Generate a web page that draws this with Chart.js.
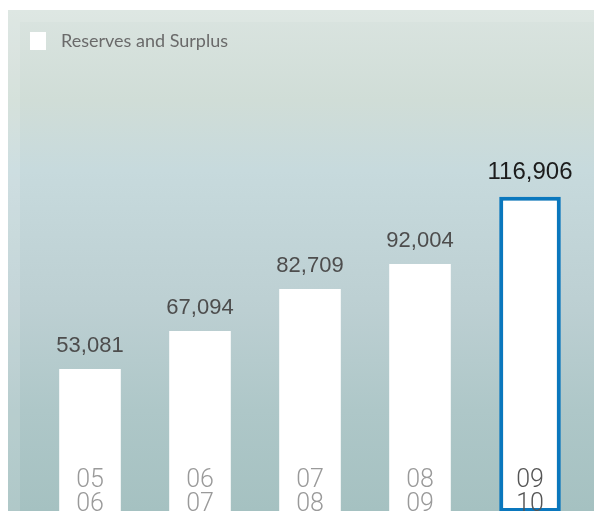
<!DOCTYPE html>
<html>
<head>
<meta charset="utf-8">
<script src="https://cdn.jsdelivr.net/npm/chart.js@4/dist/chart.umd.min.js"></script>
<style>
  html, body { margin: 0; padding: 0; background: #ffffff; overflow: hidden; }
  #wrap { width: 594px; height: 511px; overflow: hidden; }
</style>
</head>
<body>
<div id="wrap"><canvas id="c" width="594" height="530"></canvas></div>
<script>
// Reserves and Surplus by financial year
const seriesName = 'Reserves and Surplus';
const yearStart = ['05', '06', '07', '08', '09'];
const yearEnd   = ['06', '07', '08', '09', '10'];
const reserves  = [53081, 67094, 82709, 92004, 116906];

const categories = yearStart.map((s, i) => s + '/' + yearEnd[i]);
const lastIdx = reserves.length - 1;
const highlight = '#0a77bd';

// Tinted panel behind the bars
const panelBackground = {
  id: 'panelBackground',
  beforeDraw(chart) {
    const ctx = chart.ctx;
    const W = chart.width, H = 511;
    ctx.save();
    ctx.fillStyle = '#ffffff';
    ctx.fillRect(0, 0, W, chart.height);
    const g = ctx.createLinearGradient(0, 10, 0, H);
    g.addColorStop(0.00, '#dae4e0');
    g.addColorStop(0.18, '#d0ddd7');
    g.addColorStop(0.32, '#c7dadd');
    g.addColorStop(0.60, '#bccfd2');
    g.addColorStop(0.80, '#aec7c8');
    g.addColorStop(1.00, '#a5c1c1');
    ctx.fillStyle = g;
    ctx.fillRect(8, 10, W - 8, chart.height - 10);
    // soft light rim along the top and left edges
    ctx.fillStyle = 'rgba(255,255,255,0.12)';
    ctx.fillRect(8, 10, W - 8, 12);
    ctx.fillRect(8, 22, 12, chart.height - 22);
    ctx.restore();
  }
};

// Legend swatch and caption
const legendBox = {
  id: 'legendBox',
  afterDraw(chart) {
    const ctx = chart.ctx;
    ctx.save();
    ctx.fillStyle = '#ffffff';
    ctx.fillRect(30, 32, 16, 18);
    ctx.fillStyle = '#6a6a6a';
    ctx.font = '18px Lato';
    ctx.textAlign = 'left';
    ctx.textBaseline = 'middle';
    ctx.fillText(chart.data.datasets[0].label, 61, 41);
    ctx.restore();
  }
};

// Value above each bar and the year pair inside its foot
const barLabels = {
  id: 'barLabels',
  afterDatasetsDraw(chart) {
    const ctx = chart.ctx;
    const meta = chart.getDatasetMeta(0);
    const xs = chart.scales.x;
    ctx.save();
    ctx.textAlign = 'center';
    ctx.textBaseline = 'middle';
    meta.data.forEach((bar, i) => {
      const v = chart.data.datasets[0].data[i];
      const isLast = i === lastIdx;
      ctx.fillStyle = isLast ? '#1c1c1c' : '#4d4d4d';
      ctx.font = (isLast ? '24px' : '22px') + ' "Liberation Sans"';
      ctx.fillText(v.toLocaleString('en-US'), bar.x, bar.y - (isLast ? 24 : 23));

      const cx = xs.getPixelForValue(i);
      ctx.fillStyle = isLast ? '#555555' : '#9a9a9a';
      ctx.font = '300 25px Roboto';
      ctx.fillText(yearStart[i], cx, 481);
      ctx.fillText(yearEnd[i], cx, 505);
    });
    ctx.restore();
  }
};

new Chart(document.getElementById('c'), {
  type: 'bar',
  data: {
    labels: categories,
    datasets: [{
      label: seriesName,
      data: reserves,
      backgroundColor: '#ffffff',
      borderColor: reserves.map((_, i) => i === lastIdx ? highlight : '#ffffff'),
      borderWidth: reserves.map((_, i) => i === lastIdx ? 4 : 0),
      borderSkipped: false,
      categoryPercentage: 1.0,
      barPercentage: 0.56
    }]
  },
  options: {
    responsive: false,
    animation: false,
    layout: { padding: { left: 35, right: 9, top: 100, bottom: 0 } },
    plugins: {
      legend: { display: false },
      tooltip: { enabled: false }
    },
    scales: {
      x: { display: false, grid: { display: false } },
      y: { display: false, min: -6640, max: 152760, grid: { display: false } }
    }
  },
  plugins: [panelBackground, legendBox, barLabels]
});
</script>
</body>
</html>
